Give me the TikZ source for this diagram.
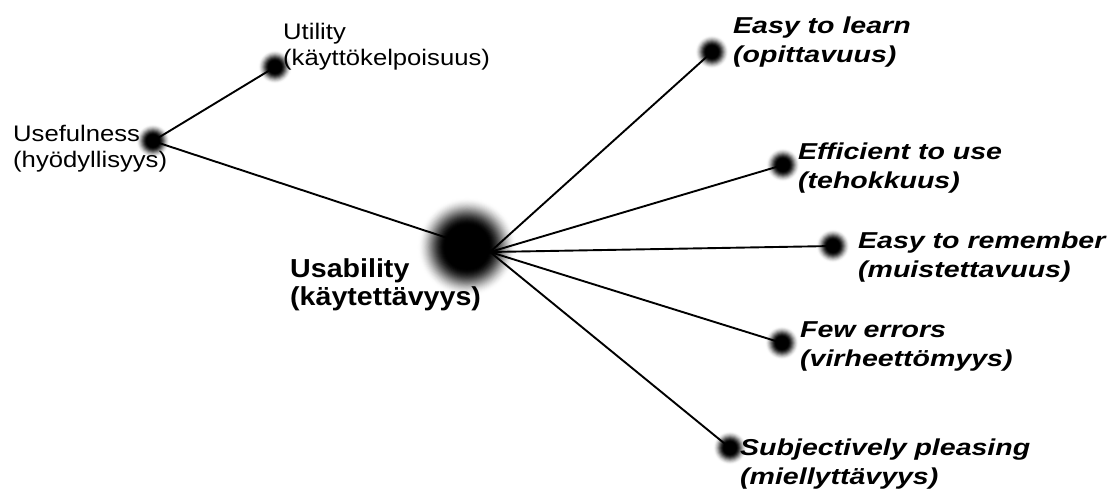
\documentclass[tikz,border=0pt]{standalone}
\usepackage{fontspec}
% Arial-metric sans faces, widened a little
\newfontfamily\labelfont[FakeStretch=1.14]{Liberation Sans}
\newfontfamily\hubfont[FakeStretch=1.10]{Liberation Sans}
\newfontfamily\aspectfont[FakeStretch=1.24]{Liberation Sans}

% soft-edged dot built from concentric discs:
% #1 centre, #2 outer radius (pt), #3 radius of the solid black core (pt)
\newcommand\softspot[3]{%
  \foreach \i in {0,...,30}{%
    \pgfmathsetmacro\tt{\i/30}%
    \pgfmathsetmacro\rr{#2-(#2-#3)*\tt}%
    \pgfmathsetmacro\pp{100*\tt*\tt*(3-2*\tt)}%
    \fill[black!\pp] (#1) circle[radius=\rr pt];
  }%
}

\tikzset{
  link/.style={draw=black, line width=1.9pt},
  lbl/.style={anchor=base west, inner sep=0pt, align=left,
    font=\labelfont\fontsize{22.5}{25.5}\selectfont},
  hublbl/.style={anchor=base west, inner sep=0pt, align=left,
    font=\hubfont\bfseries\fontsize{26}{28}\selectfont},
  aspectlbl/.style={anchor=base west, inner sep=0pt, align=left,
    font=\aspectfont\bfseries\itshape\fontsize{23}{29}\selectfont},
}

\begin{document}
\begin{tikzpicture}[x=1pt, y=-1pt]
\useasboundingbox (0,0) rectangle (1114,493);

% dot centres
\coordinate (hub)     at (490,252);
\coordinate (hubc)    at (467,247);
\coordinate (useful)  at (153,141);
\coordinate (utility) at (275,67);
\coordinate (learn)   at (712,52);
\coordinate (effic)   at (783,165);
\coordinate (remem)   at (833,246);
\coordinate (errors)  at (782,343);
\coordinate (pleas)   at (730,448);

% soft dots
\softspot{hubc}{50}{22}
\foreach \t in {useful,utility,learn,effic,remem,errors,pleas}
  {\softspot{\t}{17}{6}}

% connectors
\draw[link] (useful) -- (utility);
\draw[link] (useful) -- (hub);
\foreach \t in {learn,effic,remem,errors,pleas}
  \draw[link] (hub) -- (\t);

% labels (placed by the baseline of their second line)
\node[lbl] (usefultxt)  at (13,167) {Usefulness\\(hyödyllisyys)};
\node[lbl] (utilitytxt) at (283,65) {Utility\\(käyttökelpoisuus)};
\node[hublbl] (hubtxt)  at (290,305) {Usability\\(käytettävyys)};
\node[aspectlbl] (learntxt)  at (733,62)  {Easy to learn\\(opittavuus)};
\node[aspectlbl] (effictxt)  at (798,188) {Efficient to use\\(tehokkuus)};
\node[aspectlbl] (rementxt)  at (858,277) {Easy to remember\\(muistettavuus)};
\node[aspectlbl] (errorstxt) at (800,366) {Few errors\\(virheettömyys)};
\node[aspectlbl] (pleastxt)  at (740,484) {Subjectively pleasing\\(miellyttävyys)};
\end{tikzpicture}
\end{document}
